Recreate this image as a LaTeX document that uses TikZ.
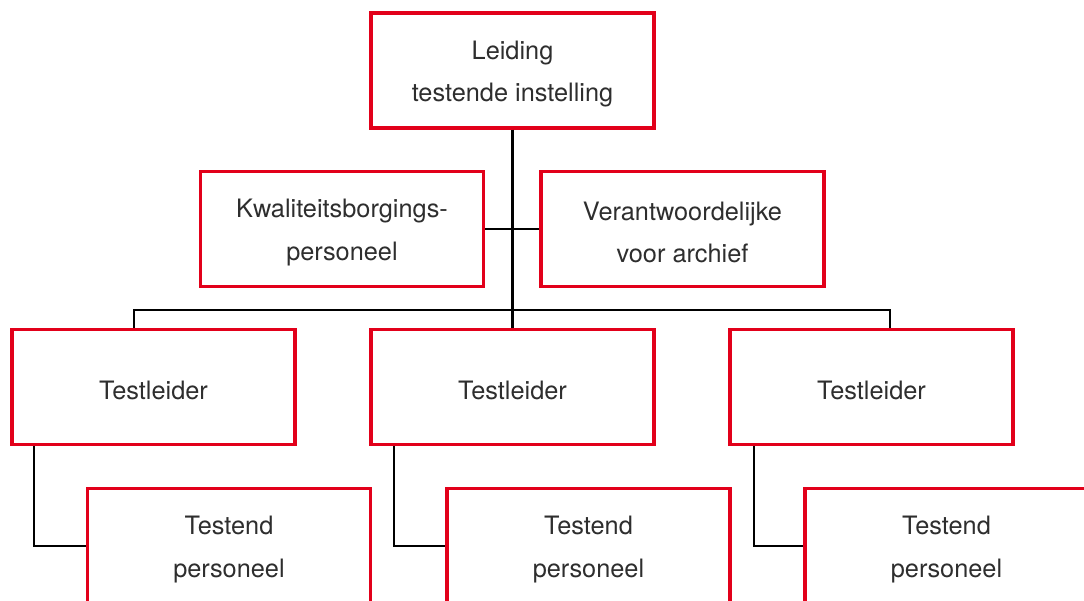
\documentclass[tikz,border=0pt]{standalone}
\usepackage{fontspec}
\setmainfont{TeX Gyre Heros}
\definecolor{boxred}{HTML}{E2001A}
\begin{document}
\begin{tikzpicture}[x=0.75pt,y=-0.75pt,
  orgbox/.style={draw=boxred, line width=2.3pt, fill=white, minimum width=283*0.75pt, minimum height=115*0.75pt,
    inner sep=0pt},
  txt/.style={align=center, font=\fontsize{19}{32}\selectfont, text=black!82, yshift=-2.6pt, inner sep=0pt},
  link/.style={draw=black, line width=1.9pt}]
\useasboundingbox (0,0) rectangle (1084,600);
\clip (0,0) rectangle (1084,600);
% nodes
\node[orgbox, label={[txt]center:{Leiding\\testende instelling}}] (top) at (512.5,70.5) {};
\node[orgbox, label={[txt]center:{Kwaliteitsborgings-\\personeel}}] (kb) at (342,229) {};
\node[orgbox, label={[txt]center:{Verantwoordelijke\\voor archief}}] (va) at (682.5,229) {};
\node[orgbox, label={[txt]center:{Testleider}}] (tl1) at (153.5,387) {};
\node[orgbox, label={[txt]center:{Testleider}}] (tl2) at (512.5,387) {};
\node[orgbox, label={[txt]center:{Testleider}}] (tl3) at (871.5,387) {};
\node[orgbox, label={[txt]center:{Testend\\personeel}}] (te1) at (229,546) {};
\node[orgbox, label={[txt]center:{Testend\\personeel}}] (te2) at (588.5,546) {};
\node[orgbox, label={[txt]center:{Testend\\personeel}}] (te3) at (946.5,546) {};
% helper coordinates
\coordinate (b1) at (134,310);
\coordinate (b3) at (890,310);
\coordinate (c1) at (34,0);
\coordinate (c2) at (394,0);
\coordinate (c3) at (754,0);
% connectors
\draw[link] (top.south) -- (tl2.north);
\draw[link] (kb.east) -- (va.west);
\draw[link] (tl1.north -| b1) -- (b1) -- (b3) -- (tl3.north -| b3);
\draw[link] (tl1.south -| c1) |- (te1.west);
\draw[link] (tl2.south -| c2) |- (te2.west);
\draw[link] (tl3.south -| c3) |- (te3.west);
\end{tikzpicture}
\end{document}
